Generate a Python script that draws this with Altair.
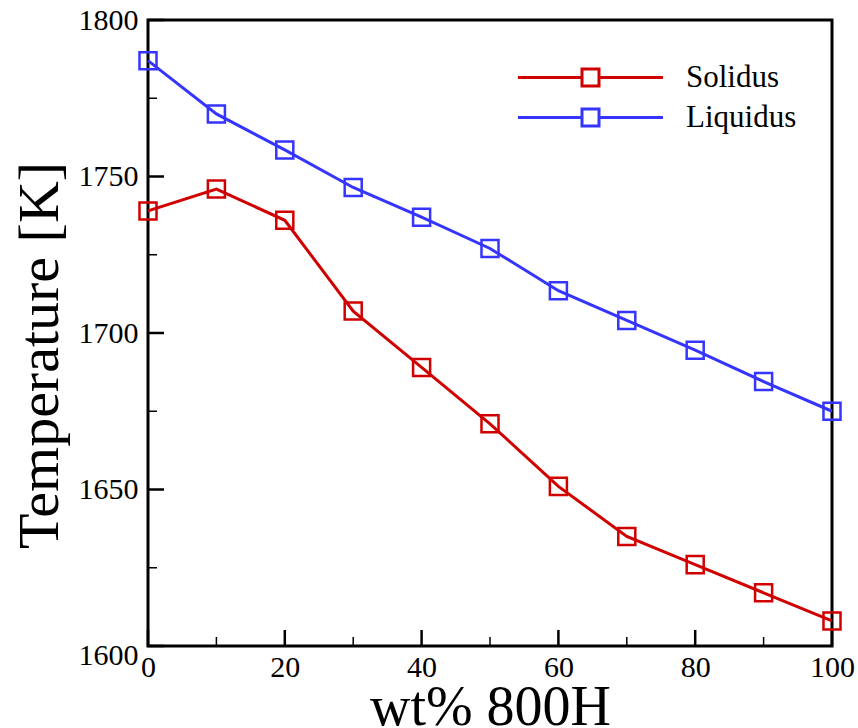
import altair as alt
import pandas as pd

wt = [0, 10, 20, 30, 40, 50, 60, 70, 80, 90, 100]
solidus = [1739, 1746, 1736, 1707, 1689, 1671, 1651, 1635, 1626, 1617, 1608]
liquidus = [1787, 1770, 1758.5, 1746.5, 1737, 1727, 1713.5, 1704, 1694.5, 1684.5, 1675]
series_names = ["Solidus", "Liquidus"]
series_colors = ["#d10000", "#3535ff"]

x_major = [0, 20, 40, 60, 80, 100]
x_minor = [10, 30, 50, 70, 90]
y_major = [1600, 1650, 1700, 1750, 1800]
y_minor = [1625, 1675, 1725, 1775]

W, H = 684, 626
FONT = "Liberation Serif"

df = pd.DataFrame(
    {"wt": wt * 2,
     "T": solidus + liquidus,
     "series": ["Solidus"] * len(wt) + ["Liquidus"] * len(wt)}
)

xs = alt.Scale(domain=[0, 100], nice=False, zero=False)
ys = alt.Scale(domain=[1600, 1800], nice=False, zero=False)
cs = alt.Scale(domain=series_names, range=series_colors)

x_axis = alt.Axis(
    values=x_major, format="d", domain=False, ticks=False, grid=False,
    labelFont=FONT, labelFontSize=30, labelColor="black", labelPadding=6,
    labelFlush=False, title="wt% 800H", titleFont=FONT, titleFontSize=56,
    titleFontWeight="normal", titleColor="black", titleBaseline="alphabetic",
    titleY=78,
)
y_axis = alt.Axis(
    values=y_major, format="d", domain=False, ticks=False, grid=False,
    labelFont=FONT, labelFontSize=30, labelColor="black", labelPadding=10,
    labelFlush=False,
    labelOffset={"condition": {"test": "datum.value == 1600", "value": 9}, "value": 0},
    title="Temperature [K]", titleFont=FONT, titleFontSize=58,
    titleFontWeight="normal", titleColor="black", titleAngle=-90,
    titleBaseline="alphabetic", titleX=-91, titleY=335, titleAnchor="middle",
)

legend_path = "M-7.25,0H-0.85M0.85,0H7.25M-0.85,-0.85H0.85V0.85H-0.85Z"
legend = alt.Legend(
    title=None, orient="none", legendX=427, legendY=42,
    symbolType=legend_path, symbolSize=400, symbolStrokeWidth=3,
    symbolFillColor="transparent", symbolOpacity=1,
    labelFont=FONT, labelFontSize=31, labelColor="black",
    labelOffset=80, rowPadding=8, padding=0,
)

base = alt.Chart(df)

lines = base.mark_line(strokeWidth=3).encode(
    x=alt.X("wt:Q", scale=xs, axis=x_axis),
    y=alt.Y("T:Q", scale=ys, axis=y_axis),
    color=alt.Color("series:N", scale=cs, legend=legend),
    detail="series:N",
)

points = base.mark_point(shape="square", size=290, filled=False, strokeWidth=2.5, opacity=1).encode(
    x=alt.X("wt:Q", scale=xs),
    y=alt.Y("T:Q", scale=ys),
    color=alt.Color("series:N", scale=cs, legend=legend),
)

xt_major = alt.Chart(pd.DataFrame({"v": x_major})).mark_rule(color="black", strokeWidth=2.5).encode(
    x=alt.X("v:Q", scale=xs), y=alt.value(H), y2=alt.value(H - 16))
xt_minor = alt.Chart(pd.DataFrame({"v": x_minor})).mark_rule(color="black", strokeWidth=1.5).encode(
    x=alt.X("v:Q", scale=xs), y=alt.value(H), y2=alt.value(H - 9))
yt_major = alt.Chart(pd.DataFrame({"v": y_major})).mark_rule(color="black", strokeWidth=2.5).encode(
    y=alt.Y("v:Q", scale=ys), x=alt.value(0), x2=alt.value(16))
yt_minor = alt.Chart(pd.DataFrame({"v": y_minor})).mark_rule(color="black", strokeWidth=1.5).encode(
    y=alt.Y("v:Q", scale=ys), x=alt.value(0), x2=alt.value(9))

chart = alt.layer(xt_major, xt_minor, yt_major, yt_minor, lines, points).properties(
    width=W, height=H,
    autosize=alt.AutoSizeParams(type="none"),
    padding={"left": 148, "top": 20, "right": 26, "bottom": 82},
    background="white",
).configure_view(
    stroke="black", strokeWidth=3
)

chart.save("out.html", embed_options={"renderer": "svg", "actions": False})
